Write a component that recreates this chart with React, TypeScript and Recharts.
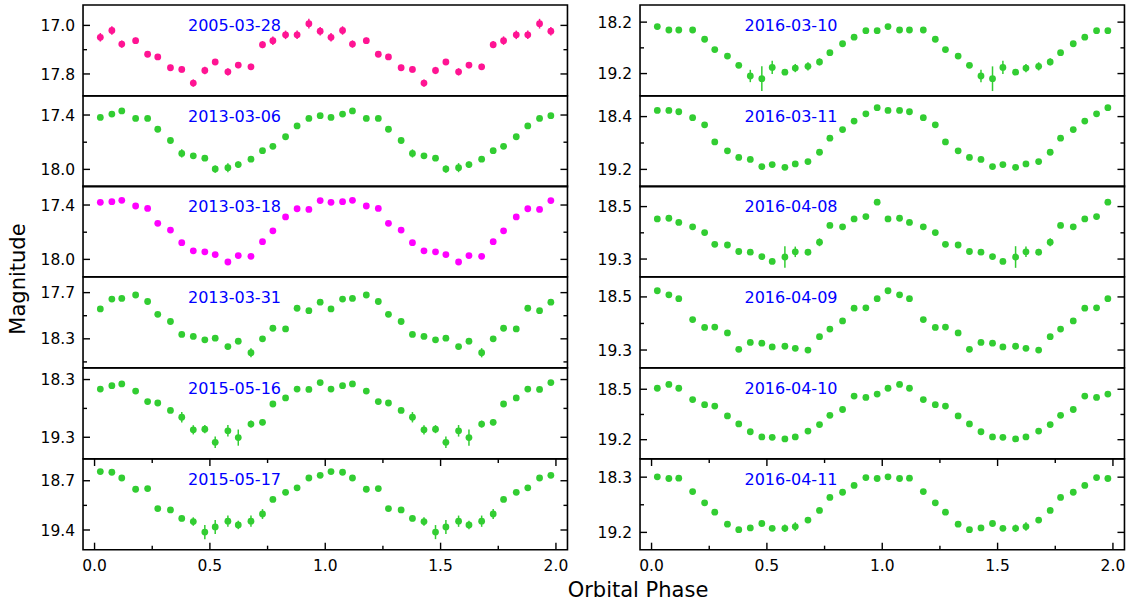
import React from 'react';
import { ScatterChart, Scatter, XAxis, YAxis, ErrorBar, ReferenceArea } from 'recharts';

// orbital phase of the 20 binned points (one cycle, plotted twice)
const phases = [0.025, 0.075, 0.118, 0.178, 0.23, 0.274, 0.329, 0.378, 0.428, 0.478, 0.523, 0.578, 0.623, 0.678, 0.728, 0.773, 0.828, 0.878, 0.929, 0.978];

const xTicks = [0, 0.25, 0.5, 0.75, 1, 1.25, 1.5, 1.75, 2];
const xMajors = [0, 0.5, 1, 1.5, 2];
const X_LIM: [number, number] = [-0.05, 2.05];

const mag050328 = [17.196, 17.084, 17.307, 17.251, 17.475, 17.52, 17.698, 17.726, 17.95, 17.743, 17.603, 17.765, 17.654, 17.682, 17.318, 17.251, 17.156, 17.156, 16.972, 17.095];
const err050328 = [0.07, 0.07, 0.06, 0.05, 0.04, 0.05, 0.05, 0.05, 0.06, 0.06, 0.05, 0.06, 0.05, 0.05, 0.06, 0.07, 0.07, 0.07, 0.08, 0.07];

const mag130306 = [17.426, 17.389, 17.355, 17.437, 17.437, 17.557, 17.681, 17.824, 17.85, 17.876, 17.996, 17.981, 17.947, 17.887, 17.794, 17.745, 17.64, 17.52, 17.437, 17.407];
const err130306 = [0.02, 0.02, 0.02, 0.02, 0.02, 0.02, 0.02, 0.045, 0.03, 0.03, 0.04, 0.05, 0.035, 0.03, 0.02, 0.02, 0.02, 0.02, 0.02, 0.02];

const mag130318 = [17.37, 17.363, 17.348, 17.411, 17.437, 17.602, 17.677, 17.816, 17.906, 17.917, 17.947, 18.029, 17.958, 17.966, 17.805, 17.685, 17.531, 17.441, 17.449, 17.351];
const err130318 = [0.015, 0.015, 0.015, 0.015, 0.015, 0.015, 0.015, 0.015, 0.015, 0.015, 0.015, 0.015, 0.015, 0.015, 0.015, 0.015, 0.015, 0.015, 0.015, 0.015];

const mag130331 = [17.912, 17.784, 17.775, 17.731, 17.815, 17.982, 18.075, 18.243, 18.269, 18.313, 18.291, 18.401, 18.331, 18.481, 18.3, 18.163, 18.172, 17.903, 17.934, 17.824];
const err130331 = [0.02, 0.02, 0.02, 0.02, 0.02, 0.02, 0.02, 0.03, 0.03, 0.03, 0.03, 0.03, 0.04, 0.06, 0.03, 0.03, 0.03, 0.02, 0.02, 0.02];

const mag150516 = [18.465, 18.406, 18.376, 18.5, 18.682, 18.706, 18.835, 18.953, 19.171, 19.159, 19.388, 19.188, 19.306, 19.071, 19.041, 18.724, 18.618, 18.465, 18.471, 18.353];
const err150516 = [0.03, 0.03, 0.03, 0.03, 0.03, 0.03, 0.04, 0.09, 0.08, 0.07, 0.1, 0.1, 0.14, 0.06, 0.05, 0.03, 0.03, 0.03, 0.03, 0.03];

const mag150517 = [18.57, 18.579, 18.661, 18.821, 18.811, 19.096, 19.115, 19.236, 19.28, 19.43, 19.357, 19.275, 19.328, 19.275, 19.173, 18.966, 18.864, 18.801, 18.661, 18.623];
const err150517 = [0.03, 0.03, 0.03, 0.03, 0.03, 0.03, 0.03, 0.04, 0.06, 0.1, 0.1, 0.08, 0.06, 0.08, 0.07, 0.03, 0.03, 0.03, 0.03, 0.03];

const mag160310 = [18.287, 18.353, 18.353, 18.353, 18.533, 18.733, 18.86, 19.04, 19.247, 19.3, 19.08, 19.173, 19.093, 19.06, 18.973, 18.793, 18.62, 18.493, 18.367, 18.367];
const err160310 = [0.04, 0.04, 0.04, 0.04, 0.04, 0.04, 0.04, 0.05, 0.12, 0.24, 0.13, 0.04, 0.08, 0.08, 0.07, 0.04, 0.04, 0.04, 0.04, 0.04];

const mag160311 = [18.306, 18.306, 18.327, 18.416, 18.525, 18.784, 18.919, 19.018, 19.049, 19.158, 19.127, 19.169, 19.117, 19.081, 18.94, 18.727, 18.597, 18.468, 18.358, 18.265];
const err160311 = [0.03, 0.03, 0.03, 0.03, 0.03, 0.03, 0.03, 0.03, 0.03, 0.03, 0.03, 0.03, 0.03, 0.03, 0.03, 0.03, 0.03, 0.03, 0.03, 0.03];

const mag160408 = [18.688, 18.678, 18.741, 18.809, 18.897, 19.075, 19.086, 19.185, 19.195, 19.263, 19.337, 19.269, 19.19, 19.195, 19.044, 18.788, 18.809, 18.688, 18.652, 18.432];
const err160408 = [0.03, 0.03, 0.03, 0.03, 0.03, 0.03, 0.03, 0.03, 0.03, 0.04, 0.04, 0.165, 0.08, 0.05, 0.06, 0.03, 0.03, 0.03, 0.03, 0.03];

const mag160409 = [18.407, 18.469, 18.526, 18.841, 18.959, 18.954, 19.042, 19.29, 19.186, 19.197, 19.254, 19.243, 19.274, 19.3, 19.099, 18.985, 18.861, 18.67, 18.665, 18.526];
const err160409 = [0.03, 0.03, 0.03, 0.03, 0.03, 0.03, 0.03, 0.03, 0.03, 0.03, 0.03, 0.03, 0.03, 0.03, 0.03, 0.03, 0.03, 0.03, 0.03, 0.03];

const mag160410 = [18.486, 18.433, 18.486, 18.643, 18.714, 18.733, 18.871, 18.981, 19.09, 19.162, 19.167, 19.19, 19.162, 19.081, 18.99, 18.862, 18.781, 18.595, 18.614, 18.567];
const err160410 = [0.03, 0.03, 0.03, 0.03, 0.03, 0.03, 0.03, 0.03, 0.03, 0.03, 0.03, 0.03, 0.03, 0.03, 0.03, 0.03, 0.03, 0.03, 0.03, 0.03];

const mag160411 = [18.294, 18.322, 18.317, 18.535, 18.719, 18.87, 19.066, 19.155, 19.127, 19.055, 19.133, 19.133, 19.105, 18.999, 18.842, 18.63, 18.546, 18.434, 18.306, 18.322];
const err160411 = [0.03, 0.03, 0.03, 0.03, 0.03, 0.03, 0.03, 0.03, 0.03, 0.03, 0.03, 0.06, 0.07, 0.03, 0.03, 0.03, 0.03, 0.03, 0.03, 0.03];

// y limits (top, bottom) and ticks per night; the first/last major gets a label
const ylims: [number, number][] = [
  [16.664, 18.158], [17.19, 18.191], [17.19, 18.191], [17.497, 18.675], [18.1, 19.671], [18.391, 19.68],
  [17.867, 19.63], [18.088, 19.462], [18.186, 19.569], [18.2, 19.566], [18.205, 19.464], [18.004, 19.482],
];
const yTicks = [
  [17.0, 17.4, 17.8], [17.4, 17.7, 18.0], [17.4, 17.7, 18.0], [17.7, 18.0, 18.3, 18.6], [18.3, 18.8, 19.3], [18.7, 19.05, 19.4],
  [18.2, 18.7, 19.2], [18.4, 18.8, 19.2], [18.5, 18.9, 19.3], [18.5, 18.9, 19.3], [18.5, 18.85, 19.2], [18.3, 18.75, 19.2],
];
const yMajors = [
  [17.0, 17.8], [17.4, 18.0], [17.4, 18.0], [17.7, 18.3], [18.3, 19.3], [18.7, 19.4],
  [18.2, 19.2], [18.4, 19.2], [18.5, 19.3], [18.5, 19.3], [18.5, 19.2], [18.3, 19.2],
];

const dates = ['2005-03-28', '2013-03-06', '2013-03-18', '2013-03-31', '2015-05-16', '2015-05-17',
  '2016-03-10', '2016-03-11', '2016-04-08', '2016-04-09', '2016-04-10', '2016-04-11'];
const mags = [mag050328, mag130306, mag130318, mag130331, mag150516, mag150517, mag160310, mag160311, mag160408, mag160409, mag160410, mag160411];
const errs = [err050328, err130306, err130318, err130331, err150516, err150517, err160310, err160311, err160408, err160409, err160410, err160411];

const GREEN = '#32cd32';
const colors = ['#ff1493', GREEN, '#ff00ff', GREEN, GREEN, GREEN, GREEN, GREEN, GREEN, GREEN, GREEN, GREEN];

const FONT = '"DejaVu Sans", sans-serif';
const COL_X = [83, 639.5];
const ROW_Y0 = 5;
const PLOT_W = 484.5;
const PLOT_H = 90.7;
const Y_AXIS_W = 60;
const X_AXIS_H = 30;
const PAD = 2;

const YTick = (props: any) => {
  const { x, y, payload, majors } = props;
  const major = majors.some((m: number) => Math.abs(m - payload.value) < 1e-6);
  const len = major ? 7 : 4;
  return (
    <g>
      <line x1={x} y1={y} x2={x + len} y2={y} stroke="#000" strokeWidth={1.4} />
      <line x1={x + PLOT_W} y1={y} x2={x + PLOT_W - len} y2={y} stroke="#000" strokeWidth={1.4} />
      {major && (
        <text x={x - 8} y={y} dy="0.36em" textAnchor="end" fontSize={15.5} fontFamily={FONT} fill="#000">
          {payload.value.toFixed(1)}
        </text>
      )}
    </g>
  );
};

const XTick = (props: any) => {
  const { x, y, payload, showLabel } = props;
  const major = xMajors.some((m) => Math.abs(m - payload.value) < 1e-6);
  const len = major ? 7 : 4;
  return (
    <g>
      <line x1={x} y1={y} x2={x} y2={y - len} stroke="#000" strokeWidth={1.4} />
      <line x1={x} y1={y - PLOT_H} x2={x} y2={y - PLOT_H + len} stroke="#000" strokeWidth={1.4} />
      {major && showLabel && (
        <text x={x} y={y + 16} dy="0.36em" textAnchor="middle" fontSize={15.5} fontFamily={FONT} fill="#000">
          {payload.value.toFixed(1)}
        </text>
      )}
    </g>
  );
};

const Panel = ({ i }: { i: number }) => {
  const col = i < 6 ? 0 : 1;
  const row = i % 6;
  const bottom = row === 5;
  const color = colors[i];
  const ylim = ylims[i];
  // the folded light curve is shown over two cycles
  const data = [
    ...mags[i].map((m, k) => ({ phase: phases[k], mag: m, err: errs[i][k] })),
    ...mags[i].map((m, k) => ({ phase: phases[k] + 1, mag: m, err: errs[i][k] })),
  ];
  const xh = bottom ? X_AXIS_H : 0;
  return (
    <div style={{ position: 'absolute', left: COL_X[col] - Y_AXIS_W, top: ROW_Y0 + row * PLOT_H - PAD }}>
      <ScatterChart
        width={Y_AXIS_W + PLOT_W + PAD}
        height={PAD + PLOT_H + xh + PAD}
        margin={{ top: PAD, right: PAD, bottom: PAD, left: 0 }}
      >
        <XAxis
          type="number"
          dataKey="phase"
          domain={X_LIM}
          ticks={xTicks}
          interval={0}
          allowDataOverflow
          axisLine={false}
          tickLine={false}
          tickSize={0}
          tickMargin={0}
          height={xh}
          tick={(t: any) => <XTick {...t} showLabel={bottom} />}
        />
        <YAxis
          type="number"
          dataKey="mag"
          domain={ylim}
          reversed
          ticks={yTicks[i]}
          interval={0}
          allowDataOverflow
          axisLine={false}
          tickLine={false}
          tickSize={0}
          tickMargin={0}
          width={Y_AXIS_W}
          tick={(t: any) => <YTick {...t} majors={yMajors[i]} />}
        />
        <ReferenceArea
          x1={X_LIM[0]}
          x2={X_LIM[1]}
          y1={ylim[0]}
          y2={ylim[1]}
          fill="none"
          stroke="#000"
          strokeWidth={1.6}
          ifOverflow="visible"
        />
        <Scatter
          data={data}
          fill={color}
          isAnimationActive={false}
          shape={(p: any) => <circle cx={p.cx} cy={p.cy} r={3.4} fill={color} />}
        >
          <ErrorBar dataKey="err" direction="y" width={0} stroke={color} strokeWidth={1.5} isAnimationActive={false} />
        </Scatter>
      </ScatterChart>
      <div
        style={{
          position: 'absolute',
          left: Y_AXIS_W + 105,
          top: PAD + 21 - 9,
          lineHeight: '18px',
          fontSize: 16,
          fontFamily: FONT,
          color: '#0000ff',
          whiteSpace: 'nowrap',
        }}
      >
        {dates[i]}
      </div>
    </div>
  );
};

export default function App() {
  return (
    <div style={{ position: 'absolute', left: 0, top: 0, width: 1132, height: 607, background: '#fff', fontFamily: FONT }}>
      {dates.map((d, i) => (
        <Panel key={d} i={i} />
      ))}
      <div
        style={{
          position: 'absolute',
          left: 18 - 100,
          top: 279 - 12,
          width: 200,
          lineHeight: '24px',
          textAlign: 'center',
          fontSize: 21,
          transform: 'rotate(-90deg)',
        }}
      >
        Magnitude
      </div>
      <div
        style={{
          position: 'absolute',
          left: 638 - 100,
          top: 590 - 12,
          width: 200,
          lineHeight: '24px',
          textAlign: 'center',
          fontSize: 21,
        }}
      >
        Orbital Phase
      </div>
    </div>
  );
}
